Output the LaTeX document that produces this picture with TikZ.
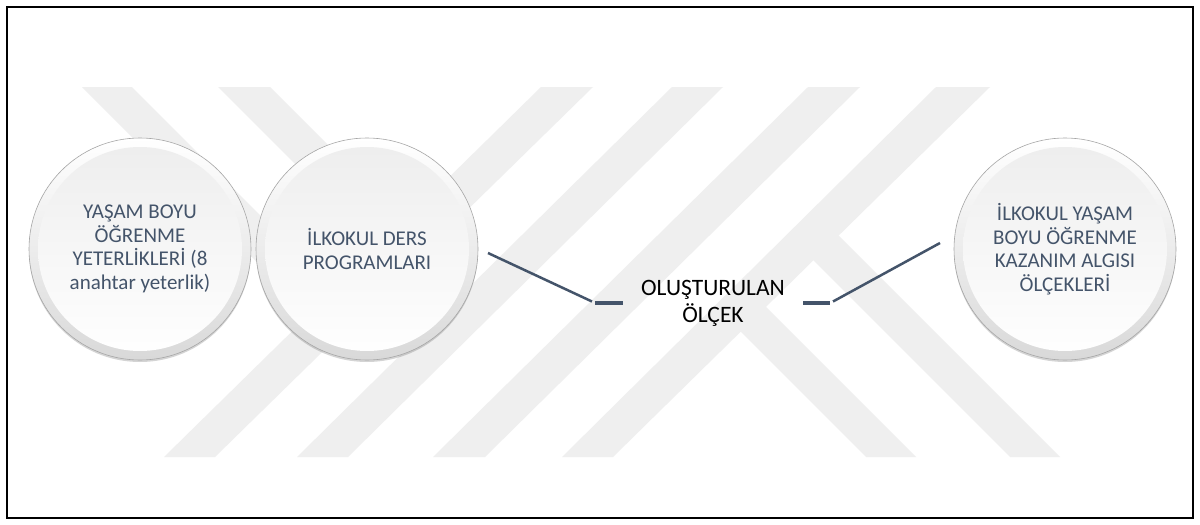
\documentclass[tikz,border=0pt]{standalone}
\usepackage{fontspec}
\setmainfont{Carlito}
\usetikzlibrary{calc}
\definecolor{wm}{RGB}{239,239,239}
\definecolor{slate}{RGB}{68,84,106}

\begin{document}
\begin{tikzpicture}[x=1pt,y=-1pt,
  band/.style={fill=wm},
  bubble/.style={circle, minimum size=222pt, inner sep=0pt, align=center, text=slate,
     font=\fontsize{21}{23.5}\selectfont,
     preaction={fill=black!60, opacity=0.28, transform canvas={yshift=-2pt}},
     top color=white, bottom color=black!15, draw=black!35, line width=0.6pt,
     path picture={\shade[top color=black!7, bottom color=white]
        (path picture bounding box.center) circle (102pt);}},
  link/.style={draw=slate, line width=2.5pt},
  tick/.style={draw=slate, line width=4pt},
  label/.style={align=center, text=black, inner xsep=18pt,
     font=\fontsize{23.5}{27}\selectfont},
]
\useasboundingbox (0,0) rectangle (1200,525);
\fill[white] (0,0) rectangle (1200,525);

% background chevron bands
\fill[band] (82,87) -- (132,87) -- (345,300) -- (320,325) -- cycle;
\fill[band] (218,87) -- (270,87) -- (415,232) -- (389,258) -- cycle;
\fill[band] (541,87) -- (593,87) -- (215,457) -- (164,457) -- cycle;
\fill[band] (672,87) -- (723,87) -- (348,457) -- (297,457) -- cycle;
\fill[band] (808,87) -- (860,87) -- (485,457) -- (433,457) -- cycle;
\fill[band] (936,87) -- (990,87) -- (613,457) -- (562,457) -- cycle;
\fill[band] (727,318) -- (752,293) -- (916,457) -- (866,457) -- cycle;
\fill[band] (799,246) -- (824,221) -- (1060,457) -- (1010,457) -- cycle;

% circles
\node[bubble] (c1) at (140,249) {YAŞAM BOYU\\ÖĞRENME\\YETERLİKLERİ (8\\anahtar yeterlik)};
\node[bubble] (c2) at (367,249) {İLKOKUL DERS\\PROGRAMLARI};
\node[bubble] (c3) at (1065,249) {İLKOKUL YAŞAM\\BOYU ÖĞRENME\\KAZANIM ALGISI\\ÖLÇEKLERİ};

% central label
\node[label] (ctr) at (713,303) {OLUŞTURULAN\\ÖLÇEK};

% connectors
\coordinate (p1) at (488,253);
\coordinate (p2) at (940,243);
\draw[link] (p1) -- ([xshift=-31pt,yshift=1.5pt]ctr.west);
\draw[tick] ([xshift=-28pt]ctr.west) -- (ctr.west);
\draw[tick] (ctr.east) -- ([xshift=27pt]ctr.east);
\draw[link] ([xshift=30pt,yshift=1.5pt]ctr.east) -- (p2);

% frame
\draw[line width=2pt] (7,7) rectangle (1193,518);
\end{tikzpicture}
\end{document}
